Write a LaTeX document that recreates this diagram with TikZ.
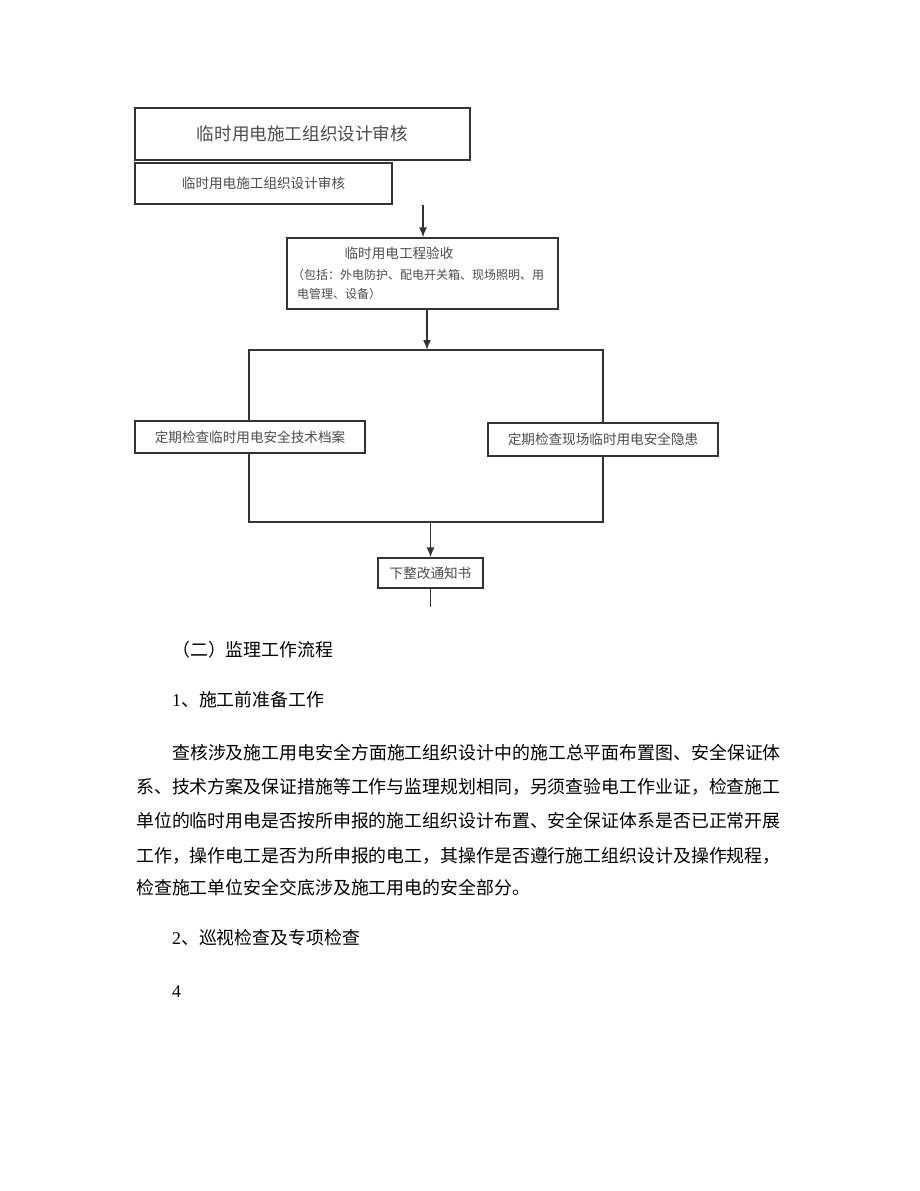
\documentclass[tikz,border=0pt]{standalone}
\usepackage{fontspec}
\setmainfont{Liberation Serif}
\newfontfamily\cjk{Noto Sans CJK SC}
\newfontfamily\tms{Liberation Serif}
\usetikzlibrary{arrows.meta}
\tikzset{
  ln/.style={draw=black!80, line width=1.2pt},
  arr/.style={ln, line width=1.5pt, -{Latex[length=10pt,width=8pt]}},
  box/.style={ln, fill=white, rectangle, inner sep=0pt, text=black!70,
     font=\cjk\fontsize{13.6}{16}\selectfont},
  body/.style={anchor=west, inner sep=0pt, text=black, font=\cjk\fontsize{17.9}{20}\selectfont},
  small/.style={anchor=west, inner sep=0pt, text=black!70, font=\cjk\fontsize{12}{14}\selectfont}
}
\begin{document}
\begin{tikzpicture}[x=1pt,y=-1pt]
\useasboundingbox (0,0) rectangle (920,1191);
\fill[white] (0,0) rectangle (920,1191);
% top boxes
\node[box, line width=1.6pt, minimum width=335pt, minimum height=52pt, font=\cjk\fontsize{17.6}{20}\selectfont] (b1) at (302.5,134) {临时用电施工组织设计审核};
\node[box, minimum width=257pt, minimum height=41pt] (b2) at (263.5,183.5) {临时用电施工组织设计审核};
% box 3
\node[box, minimum width=271pt, minimum height=71pt] (b3) at (422.5,273.5) {};
\node[box, draw=none, fill=none, anchor=center] (b3t) at (399,253) {临时用电工程验收};
\node[small] (b3a) at (292,275) {（包括：外电防护、配电开关箱、现场照明、用};
\node[small] (b3b) at (297,294) {电管理、设备）};
\coordinate (a1) at (423,205);
\draw[arr] (a1) -- (a1 |- b3.north);
% loop
\coordinate (lt) at (249,350);
\coordinate (rt) at (603,350);
\coordinate (rb) at (603,522);
\coordinate (lb) at (249,522);
\coordinate (t2) at (427,350);
\draw[ln] (lt) -- (rt) -- (rb) -- (lb) -- cycle;
\draw[arr] (t2 |- b3.south) -- (t2);
\node[box, minimum width=230pt, minimum height=32pt] (bl) at (250,437) {定期检查临时用电安全技术档案};
\node[box, minimum width=230pt, minimum height=33pt] (br) at (603,439.5) {定期检查现场临时用电安全隐患};
% bottom
\node[box, minimum width=105pt, minimum height=30pt] (b4) at (430.5,573) {下整改通知书};
\coordinate (t3) at (430.5,522);
\coordinate (e4) at (430.5,607);
\draw[arr] (t3) -- (b4.north);
\draw[ln, line width=1.5pt] (b4.south) -- (e4);
% text
\node[body] (h1) at (172,650) {（二）监理工作流程};
\node[body] (h2) at (172,700) {{\tms 1}、施工前准备工作};
\node[body] (p1) at (172,753) {查核涉及施工用电安全方面施工组织设计中的施工总平面布置图、安全保证体};
\node[body] (p2) at (136,787) {系、技术方案及保证措施等工作与监理规划相同，另须查验电工作业证，检查施工};
\node[body] (p3) at (136,821) {单位的临时用电是否按所申报的施工组织设计布置、安全保证体系是否已正常开展};
\node[body] (p4) at (136,856) {工作，操作电工是否为所申报的电工，其操作是否遵行施工组织设计及操作规程，};
\node[body] (p5) at (136,888) {检查施工单位安全交底涉及施工用电的安全部分。};
\node[body] (h3) at (172,938) {{\tms 2}、巡视检查及专项检查};
\node[body, font=\tms\fontsize{17.9}{20}\selectfont] (pg) at (172,992) {4};
\end{tikzpicture}
\end{document}
